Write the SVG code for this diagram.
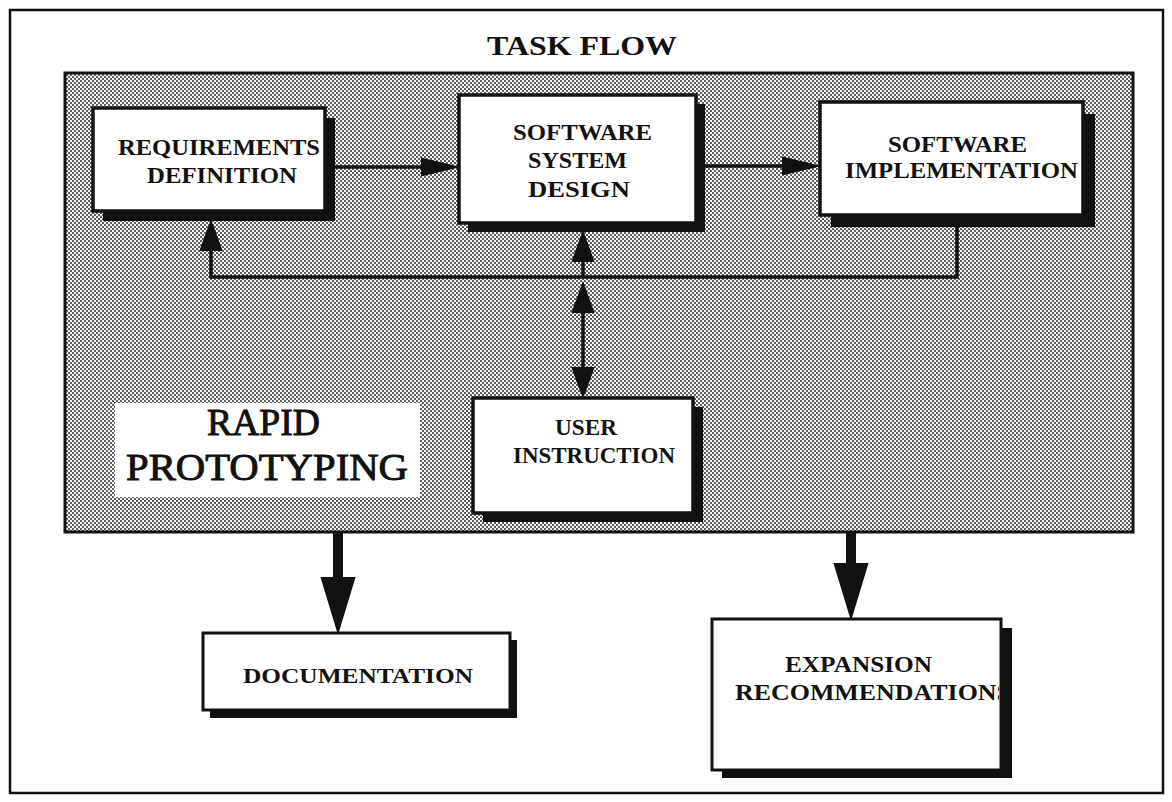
<svg xmlns="http://www.w3.org/2000/svg" width="1172" height="802" viewBox="0 0 1172 802">
  <style>
    .lbl { font-family: "Liberation Serif", "Times New Roman", serif; font-weight: bold; fill: #111; }
    .big { font-family: "Liberation Serif", "Times New Roman", serif; font-weight: normal; fill: #111; stroke: #111; stroke-width: 0.9; }
    .box { fill: #fff; stroke: #111; stroke-width: 3.5; }
    .low { fill: #fff; stroke: #111; stroke-width: 3; }
    .shadow { fill: #111; }
    .wire { fill: none; stroke: #111; stroke-width: 3.5; stroke-linejoin: miter; }
    .thick { fill: none; stroke: #111; stroke-width: 10; }
  </style>
  <defs>
    <!-- halftone screen for the prototyping panel -->
    <pattern id="halftone" width="4" height="4" patternUnits="userSpaceOnUse">
      <rect width="4" height="4" fill="#f8f8f8"/>
      <rect x="0" y="0" width="2" height="2" fill="#5e5e5e"/>
      <rect x="2" y="2" width="2" height="2" fill="#5e5e5e"/>
    </pattern>
    <marker id="headH" markerUnits="userSpaceOnUse" markerWidth="40" markerHeight="20" viewBox="0 0 38 18" refX="1" refY="9" orient="auto-start-reverse">
      <path d="M0,0 L38,9 L0,18 z" fill="#111"/>
    </marker>
    <marker id="headV" markerUnits="userSpaceOnUse" markerWidth="32" markerHeight="24" viewBox="0 0 30 22" refX="1" refY="11" orient="auto-start-reverse">
      <path d="M0,0 L30,11 L0,22 z" fill="#111"/>
    </marker>
    <marker id="headBig" markerUnits="userSpaceOnUse" markerWidth="58" markerHeight="36" viewBox="0 0 56 34" refX="1" refY="17" orient="auto">
      <path d="M0,0 L56,17 L0,34 z" fill="#111"/>
    </marker>
    <clipPath id="expClip">
      <rect x="714" y="621" width="285" height="147"/>
    </clipPath>
  </defs>

  <!-- page frame -->
  <rect x="0" y="0" width="1172" height="802" fill="#fff"/>
  <rect x="10" y="10" width="1153" height="783" fill="#fff" stroke="#111" stroke-width="2.5"/>

  <!-- title -->
  <text id="title" class="lbl" x="487" y="55" font-size="28" textLength="190" lengthAdjust="spacingAndGlyphs">TASK FLOW</text>

  <!-- shaded prototyping panel -->
  <g id="panel">
    <rect x="65" y="73" width="1068" height="459" fill="url(#halftone)" stroke="#111" stroke-width="3"/>
  </g>

  <!-- connectors -->
  <g id="connectors">
    <path class="wire" d="M335,167 L422,167" marker-end="url(#headH)"/>
    <path class="wire" d="M705,166 L783,166" marker-end="url(#headH)"/>
    <path class="wire" d="M957,227 L957,277 L211,277 L211,250" marker-end="url(#headV)"/>
    <path class="wire" d="M583,277 L583,261" marker-end="url(#headV)"/>
    <path class="wire" d="M583,312 L583,368" marker-start="url(#headV)" marker-end="url(#headV)"/>
    <path class="thick" d="M338,533 L338,578" marker-end="url(#headBig)"/>
    <path class="thick" d="M851,533 L851,564" marker-end="url(#headBig)"/>
  </g>

  <g id="requirements">
    <rect class="shadow" x="103" y="118" width="232" height="103"/>
    <rect class="box" x="93" y="108" width="232" height="103"/>
    <text class="lbl" x="118" y="155" font-size="24" textLength="202" lengthAdjust="spacingAndGlyphs">REQUIREMENTS</text>
    <text class="lbl" x="147" y="183" font-size="24" textLength="150" lengthAdjust="spacingAndGlyphs">DEFINITION</text>
  </g>

  <g id="system-design">
    <rect class="shadow" x="468" y="104" width="237" height="128"/>
    <rect class="box" x="459" y="95" width="237" height="128"/>
    <text class="lbl" x="513" y="140" font-size="23" textLength="139" lengthAdjust="spacingAndGlyphs">SOFTWARE</text>
    <text class="lbl" x="528" y="168" font-size="23" textLength="99" lengthAdjust="spacingAndGlyphs">SYSTEM</text>
    <text class="lbl" x="528" y="197" font-size="23" textLength="102" lengthAdjust="spacingAndGlyphs">DESIGN</text>
  </g>

  <g id="implementation">
    <rect class="shadow" x="831" y="114" width="264" height="113"/>
    <rect class="box" x="820" y="102" width="263" height="113"/>
    <text class="lbl" x="888" y="152" font-size="23" textLength="139" lengthAdjust="spacingAndGlyphs">SOFTWARE</text>
    <text class="lbl" x="845" y="178" font-size="23" textLength="233" lengthAdjust="spacingAndGlyphs">IMPLEMENTATION</text>
  </g>

  <g id="user-instruction">
    <rect class="shadow" x="483" y="407" width="220" height="115"/>
    <rect class="box" x="473" y="398" width="220" height="115"/>
    <text class="lbl" x="555" y="435" font-size="23" textLength="62" lengthAdjust="spacingAndGlyphs">USER</text>
    <text class="lbl" x="513" y="463" font-size="23" textLength="162" lengthAdjust="spacingAndGlyphs">INSTRUCTION</text>
  </g>

  <g id="rapid-prototyping">
    <rect x="115" y="403" width="305" height="94" fill="#fff"/>
    <text class="big" x="207" y="435" font-size="37" textLength="113" lengthAdjust="spacingAndGlyphs">RAPID</text>
    <text class="big" x="126" y="480" font-size="37" textLength="282" lengthAdjust="spacingAndGlyphs">PROTOTYPING</text>
  </g>

  <g id="documentation">
    <rect class="shadow" x="210" y="640" width="307" height="78"/>
    <rect class="low" x="203" y="633" width="307" height="77"/>
    <text class="lbl" x="243" y="683" font-size="22" textLength="230" lengthAdjust="spacingAndGlyphs">DOCUMENTATION</text>
  </g>

  <g id="expansion">
    <rect class="shadow" x="722" y="628" width="290" height="150"/>
    <rect class="low" x="712" y="619" width="289" height="151"/>
    <text class="lbl" x="785" y="672" font-size="23" textLength="147" lengthAdjust="spacingAndGlyphs">EXPANSION</text>
    <text class="lbl" x="735" y="700" font-size="23" textLength="276" lengthAdjust="spacingAndGlyphs" clip-path="url(#expClip)">RECOMMENDATIONS</text>
  </g>
</svg>
